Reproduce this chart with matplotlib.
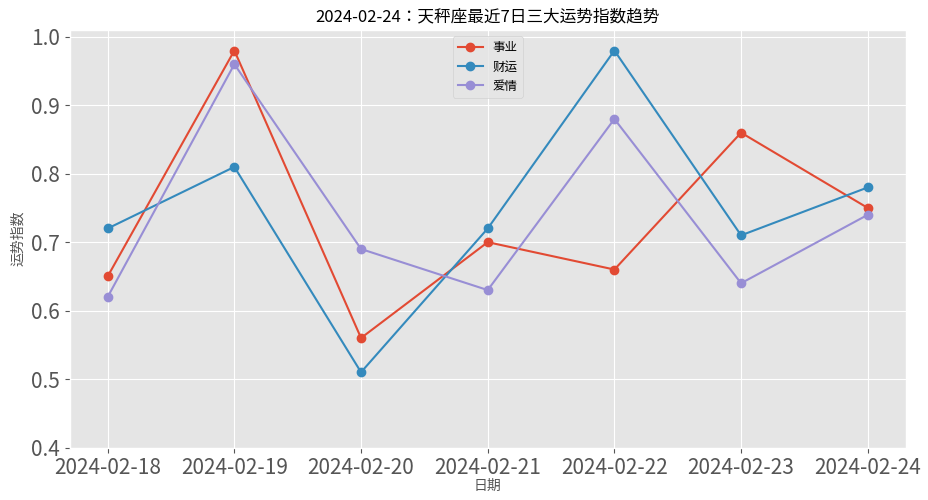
import glob
import matplotlib
matplotlib.use("Agg")
import matplotlib.pyplot as plt
from matplotlib import font_manager as fm

plt.style.use("ggplot")
cjk = "DejaVu Sans"
for path in glob.glob("/usr/share/fonts/**/*CJK*", recursive=True):
    try:
        fm.fontManager.addfont(path)
    except Exception:
        pass
names = sorted({f.name for f in fm.fontManager.ttflist if "CJK" in f.name})
for n in ["Noto Sans CJK SC", "Noto Sans CJK JP"] + names:
    if n in names:
        cjk = n
        break
plt.rcParams["font.family"] = [cjk, "DejaVu Sans"]
plt.rcParams["axes.unicode_minus"] = False

dates = ["2024-02-18", "2024-02-19", "2024-02-20", "2024-02-21",
         "2024-02-22", "2024-02-23", "2024-02-24"]
career = [0.65, 0.98, 0.56, 0.70, 0.66, 0.86, 0.75]
wealth = [0.72, 0.81, 0.51, 0.72, 0.98, 0.71, 0.78]
love = [0.62, 0.96, 0.69, 0.63, 0.88, 0.64, 0.74]

fig, ax = plt.subplots(figsize=(9.29, 5), dpi=100)
ax.plot(dates, career, marker="o", label="事业")
ax.plot(dates, wealth, marker="o", label="财运")
ax.plot(dates, love, marker="o", label="爱情")

ax.set_ylim(0.4, 1.01)
ax.set_xlim(-0.3, 6.3)
ax.set_title("2024-02-24：天秤座最近7日三大运势指数趋势", fontsize=12)
ax.set_xlabel("日期", fontsize=10, labelpad=0)
ax.set_ylabel("运势指数", fontsize=10)
ax.tick_params(axis="both", labelsize=15)
ax.legend(loc="upper center", fontsize=9)

fig.subplots_adjust(left=0.075, right=0.975, top=0.94, bottom=0.105)
fig.savefig("out.png")
